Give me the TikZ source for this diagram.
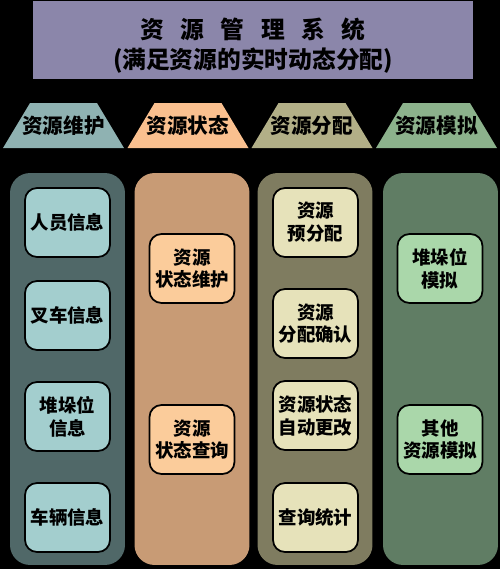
\documentclass[tikz,border=0pt]{standalone}
\usepackage{fontspec}
\newfontfamily\cjk{Noto Sans CJK SC}
\usepackage{xcolor}
\usepackage{tikz}

\definecolor{titlebg}{RGB}{139,134,170}
\definecolor{keeptab}{RGB}{143,178,178}
\definecolor{keepcol}{RGB}{80,104,104}
\definecolor{keepbox}{RGB}{163,206,206}
\definecolor{statetab}{RGB}{250,192,143}
\definecolor{statecol}{RGB}{200,155,117}
\definecolor{statebox}{RGB}{251,204,155}
\definecolor{alloctab}{RGB}{178,175,135}
\definecolor{alloccol}{RGB}{127,124,96}
\definecolor{allocbox}{RGB}{230,226,186}
\definecolor{simtab}{RGB}{140,178,140}
\definecolor{simcol}{RGB}{96,125,100}
\definecolor{simbox}{RGB}{170,215,170}

\begin{document}
\begin{tikzpicture}[
    x=0.02cm, y=-0.02cm,
    title/.style={rectangle, fill=titlebg, minimum width=8.8cm, minimum height=1.52cm, align=center, font=\cjk\bfseries\fontsize{13.5}{17}\selectfont},
    tab/.style={inner sep=0pt, font=\cjk\bfseries\fontsize{11.7}{14}\selectfont},
    tabshape/.style={insert path={++(-60.5,22.5) -- ++(27,-45) -- ++(67,0) -- ++(27,45) -- cycle}},
    column/.style={rectangle, rounded corners=0.4cm, minimum width=2.3cm, minimum height=7.84cm},
    item/.style={rectangle, draw=black, line width=1pt, rounded corners=0.24cm, minimum width=1.7cm, minimum height=1.38cm, inner sep=0pt, align=center, font=\cjk\bfseries\fontsize{10.5}{13}\selectfont}
    ]

    % Black background
    \fill[black] (0,0) rectangle (500,569);

    % Title node
    \node (title) [title] at (253,40) {\rule{0pt}{18pt}资\hspace{.7em}源\hspace{.7em}管\hspace{.7em}理\hspace{.7em}系\hspace{.7em}统\\(满足资源的实时动态分配)};

    % Tab shapes
    \fill[keeptab] (63.5,125.5) [tabshape];
    \fill[statetab] (188,125.5) [tabshape];
    \fill[alloctab] (312,125.5) [tabshape];
    \fill[simtab] (436.5,125.5) [tabshape];

    % Tab labels
    \node (tabkeep) [tab] at (63.5,125.5) {资源维护};
    \node (tabstate) [tab] at (188,125.5) {资源状态};
    \node (taballoc) [tab] at (312,125.5) {资源分配};
    \node (tabsim) [tab] at (436.5,125.5) {资源模拟};

    % Column nodes
    \node (colkeep) [column, fill=keepcol] at (67.5,369) {};
    \node (colstate) [column, fill=statecol] at (192,369) {};
    \node (colalloc) [column, fill=alloccol] at (315,369) {};
    \node (colsim) [column, fill=simcol] at (440.5,369) {};

    % Resource keeping items
    \node (staff) [item, fill=keepbox] at (67.5,222.5) {人员信息};
    \node (forklift) [item, fill=keepbox] at (67.5,315.5) {叉车信息};
    \node (yard) [item, fill=keepbox] at (67.5,416.5) {堆垛位\\信息};
    \node (vehicle) [item, fill=keepbox] at (67.5,517.5) {车辆信息};

    % Resource state items
    \node (statekeep) [item, fill=statebox] at (192,268.5) {资源\\状态维护};
    \node (statequery) [item, fill=statebox] at (192,439.5) {资源\\状态查询};

    % Resource allocation items
    \node (prealloc) [item, fill=allocbox] at (315.5,222.5) {资源\\预分配};
    \node (allocok) [item, fill=allocbox] at (315.5,323.5) {资源\\分配确认};
    \node (autochange) [item, fill=allocbox] at (315.5,415.5) {资源状态\\自动更改};
    \node (stats) [item, fill=allocbox] at (315.5,517.5) {查询统计};

    % Resource simulation items
    \node (yardsim) [item, fill=simbox] at (440,268.5) {堆垛位\\模拟};
    \node (othersim) [item, fill=simbox] at (440,439.5) {其他\\资源模拟};
\end{tikzpicture}
\end{document}
